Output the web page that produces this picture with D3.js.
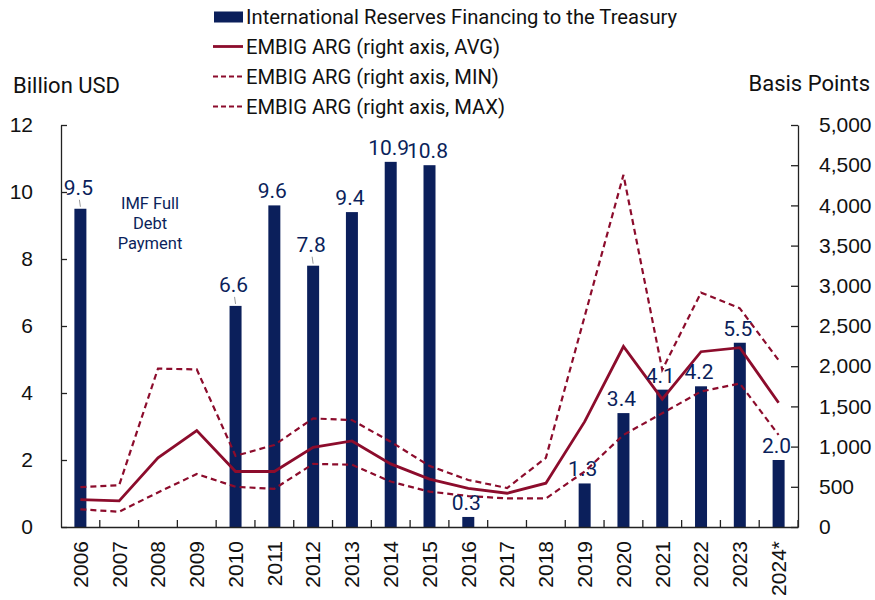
<!DOCTYPE html>
<html>
<head>
<meta charset="utf-8">
<script src="https://cdn.jsdelivr.net/npm/d3@7"></script>
<style>
    body { margin: 0; background: #fff; }
    svg { font-family: Roboto, "Noto Sans", sans-serif; }
    .axis path, .axis line { stroke: #222; stroke-width: 1.3; }
    .axis text { font-size: 21px; fill: #111; }
</style>
</head>
<body>
<div id="chart"></div>
<script>
// Chart data
const years = ['2006', '2007', '2008', '2009', '2010', '2011', '2012', '2013', '2014', '2015',
               '2016', '2017', '2018', '2019', '2020', '2021', '2022', '2023', '2024*'];
const reserves = [9.5, null, null, null, 6.6, 9.6, 7.8, 9.4, 10.9, 10.8,
                  0.3, null, null, 1.3, 3.4, 4.1, 4.2, 5.5, 2.0];
const embigAvg = [340, 325, 860, 1200, 690, 690, 990, 1070, 785, 595,
                  480, 420, 545, 1310, 2245, 1590, 2180, 2230, 1545];
const embigMin = [220, 190, 430, 660, 500, 475, 785, 775, 565, 440,
                  385, 355, 355, 690, 1145, 1415, 1685, 1785, 1145];
const embigMax = [495, 520, 1970, 1960, 885, 1020, 1350, 1330, 1060, 760,
                  585, 485, 860, 2620, 4380, 1955, 2915, 2720, 2075];
const leftTicks = [0, 2, 4, 6, 8, 10, 12];
const rightTicks = [0, 500, 1000, 1500, 2000, 2500, 3000, 3500, 4000, 4500, 5000];
const legendLabels = ['International Reserves Financing to the Treasury',
                      'EMBIG ARG (right axis, AVG)',
                      'EMBIG ARG (right axis, MIN)',
                      'EMBIG ARG (right axis, MAX)'];
const leaderYears = ['2006', '2010', '2012'];

const navy = '#0b1f5b';
const red = '#8c0c2c';

const W = 875, H = 600;
const plot = {left: 61, right: 798, top: 125, bottom: 527};

const svg = d3.select('#chart').append('svg')
    .attr('width', W).attr('height', H)
    .attr('viewBox', '0 0 ' + W + ' ' + H);

const x = d3.scaleBand().domain(years).range([plot.left, plot.right]);
const yL = d3.scaleLinear().domain([0, 12]).range([plot.bottom, plot.top]);
const yR = d3.scaleLinear().domain([0, 5000]).range([plot.bottom, plot.top]);
const cx = function(i) { return x(years[i]) + x.bandwidth() / 2; };

// BARS
const barW = 12;
const barData = reserves.map(function(v, i) { return {year: years[i], v: v, i: i}; })
    .filter(function(d) { return d.v !== null; });

svg.append('g').selectAll('rect')
    .data(barData).enter().append('rect')
    .attr('x', function(d) { return cx(d.i) - barW / 2; })
    .attr('y', function(d) { return yL(d.v); })
    .attr('width', barW)
    .attr('height', function(d) { return yL(0) - yL(d.v); })
    .attr('fill', navy);

// LINES
const line = d3.line()
    .x(function(d, i) { return cx(i); })
    .y(function(d) { return yR(d); });

const series = [
    {values: embigMax, dash: '6,4', width: 2.2},
    {values: embigMin, dash: '6,4', width: 2.2},
    {values: embigAvg, dash: null, width: 2.8}
];
svg.append('g').selectAll('path')
    .data(series).enter().append('path')
    .attr('d', function(d) { return line(d.values); })
    .attr('fill', 'none')
    .attr('stroke', red)
    .attr('stroke-width', function(d) { return d.width; })
    .attr('stroke-dasharray', function(d) { return d.dash; })
    .attr('stroke-linejoin', 'miter');

// BAR LABELS
const labels = svg.append('g');
barData.forEach(function(d) {
    const lead = leaderYears.indexOf(d.year) >= 0;
    const top = yL(d.v);
    if (lead) {
        labels.append('line')
            .attr('x1', cx(d.i) - 1).attr('x2', cx(d.i))
            .attr('y1', top - 9).attr('y2', top - 2)
            .attr('stroke', '#999').attr('stroke-width', 1);
    }
    labels.append('text')
        .attr('x', cx(d.i) - 2)
        .attr('y', top - (lead ? 14 : 7))
        .attr('text-anchor', 'middle')
        .attr('fill', navy)
        .style('font-size', '21px')
        .text(d3.format('.1f')(d.v));
});

// ANNOTATION
const note = svg.append('text')
    .attr('text-anchor', 'middle')
    .attr('fill', navy)
    .style('font-size', '16.5px');
['IMF Full', 'Debt', 'Payment'].forEach(function(t, i) {
    note.append('tspan').attr('x', 150).attr('y', 209 + i * 20).text(t);
});

// AXES
svg.append('g').attr('class', 'axis')
    .attr('transform', 'translate(' + plot.left + ',0)')
    .call(d3.axisLeft(yL).tickValues(leftTicks).tickSizeInner(-6).tickSizeOuter(0).tickPadding(28));

svg.append('g').attr('class', 'axis')
    .attr('transform', 'translate(' + plot.right + ',0)')
    .call(d3.axisRight(yR).tickValues(rightTicks).tickSizeInner(-7).tickSizeOuter(0)
        .tickPadding(21).tickFormat(d3.format(',')));

const xAxis = svg.append('g').attr('class', 'axis')
    .attr('transform', 'translate(0,' + plot.bottom + ')')
    .call(d3.axisBottom(x).tickSize(0).tickSizeOuter(0));
xAxis.selectAll('text')
    .attr('y', 0).attr('x', -14).attr('dy', '0.35em')
    .attr('transform', 'rotate(-90)')
    .style('text-anchor', 'end');

// boundary ticks on x axis
xAxis.selectAll('.bound')
    .data(years).enter().append('line')
    .attr('class', 'bound')
    .attr('x1', function(d) { return x(d) + x.bandwidth(); })
    .attr('x2', function(d) { return x(d) + x.bandwidth(); })
    .attr('y1', 0).attr('y2', -7);

// AXIS TITLES
svg.append('text').attr('x', 13).attr('y', 93)
    .style('font-size', '22px').attr('fill', '#111').text('Billion USD');
svg.append('text').attr('x', 870).attr('y', 91)
    .attr('text-anchor', 'end')
    .style('font-size', '22px').attr('fill', '#111').text('Basis Points');

// LEGEND
const legend = svg.append('g');
legendLabels.forEach(function(t, i) {
    const cy = 16.5 + i * 30;
    const g = legend.append('g');
    if (i === 0) {
        g.append('rect').attr('x', 214).attr('y', cy - 5).attr('width', 29).attr('height', 11).attr('fill', navy);
    } else {
        g.append('line').attr('x1', 213).attr('x2', 243).attr('y1', cy).attr('y2', cy)
            .attr('stroke', red)
            .attr('stroke-width', i === 1 ? 2.8 : 2.2)
            .attr('stroke-dasharray', i === 1 ? null : '5,3');
    }
    g.append('text').attr('x', 246).attr('y', cy + 7)
        .style('font-size', '20.2px').attr('fill', '#111').text(t);
});
</script>
</body>
</html>
